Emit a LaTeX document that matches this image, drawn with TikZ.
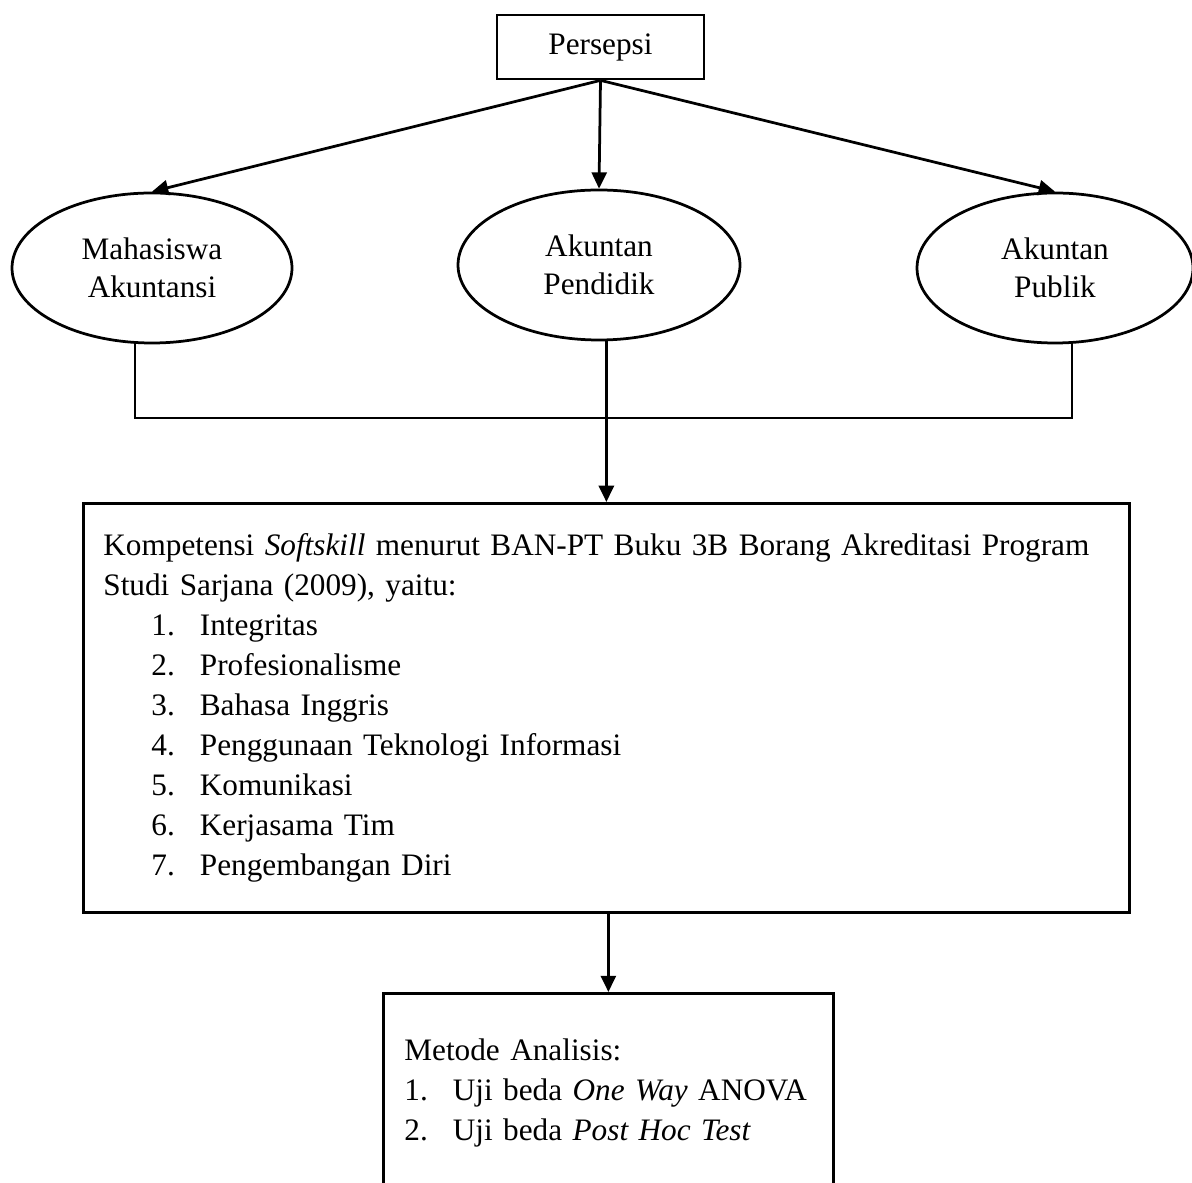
\documentclass[tikz,border=0pt]{standalone}
\usepackage{fontspec}
\setmainfont{Liberation Serif}
\usetikzlibrary{shapes.geometric, arrows.meta}

% nomor butir: indentasi, nomor, isi
\newcommand{\butir}[3]{\hspace*{#1}\makebox[19.4pt][l]{#2.}\mbox{#3}}

\begin{document}
\begin{tikzpicture}[x=0.4pt, y=-0.4pt, >={Triangle[length=6.5pt,width=6pt]}, line width=1.1pt,
    kotak/.style={draw, rectangle, font=\fontsize{12.5}{16}\selectfont},
    elips/.style={draw, ellipse, minimum width=112pt, minimum height=60pt, align=center, font=\fontsize{12.5}{15}\selectfont}]

    \clip (0,0) rectangle (1192,1183);

    % Persepsi
    \node[kotak, minimum width=82.8pt, minimum height=25.6pt] (persepsi) at (600.5,47) {Persepsi};

    % Tiga kelompok responden
    \node[elips] (mhs) at (152,268) {Mahasiswa\\Akuntansi};
    \node[elips, minimum width=112.8pt] (pend) at (599,265) {Akuntan\\Pendidik};
    \node[elips, minimum width=110.4pt] (pub) at (1055,268) {Akuntan\\Publik};

    % Kompetensi softskill
    \node[kotak, anchor=north west, minimum height=163.6pt, text width=402.4pt, inner xsep=8pt, align=left] (komp) at (82,502) {%
        Kompetensi \textit{Softskill} menurut BAN-PT Buku 3B Borang Akreditasi Program\\
        Studi Sarjana (2009), yaitu:\\
        \butir{19.2pt}{1}{Integritas}\\
        \butir{19.2pt}{2}{Profesionalisme}\\
        \butir{19.2pt}{3}{Bahasa Inggris}\\
        \butir{19.2pt}{4}{Penggunaan Teknologi Informasi}\\
        \butir{19.2pt}{5}{Komunikasi}\\
        \butir{19.2pt}{6}{Kerjasama Tim}\\
        \butir{19.2pt}{7}{Pengembangan Diri}};

    % Metode analisis
    \node[kotak, anchor=north west, text width=163.2pt, inner xsep=8.4pt, inner ysep=18pt, align=left] (metode) at (382,992) {%
        Metode Analisis:\\
        \butir{0pt}{1}{Uji beda \textit{One Way} ANOVA}\\
        \butir{0pt}{2}{Uji beda \textit{Post Hoc Test}\rule[-30pt]{0pt}{0pt}}};

    % Panah dari persepsi
    \draw[->] (persepsi.south) -- (mhs.north);
    \draw[->] (persepsi.south) -- (pend.north);
    \draw[->] (persepsi.south) -- (pub.north);

    % Garis penghubung
    \coordinate (kiri) at (135,418);
    \coordinate (kanan) at (1072,418);
    \draw (mhs.south -| kiri) -- (kiri) -- (kanan) -- (pub.south -| kanan);
    \draw[->] (pend.south -| komp.north) -- (komp.north);
    \draw[->] (komp.south -| metode.north) -- (metode.north);
\end{tikzpicture}
\end{document}
